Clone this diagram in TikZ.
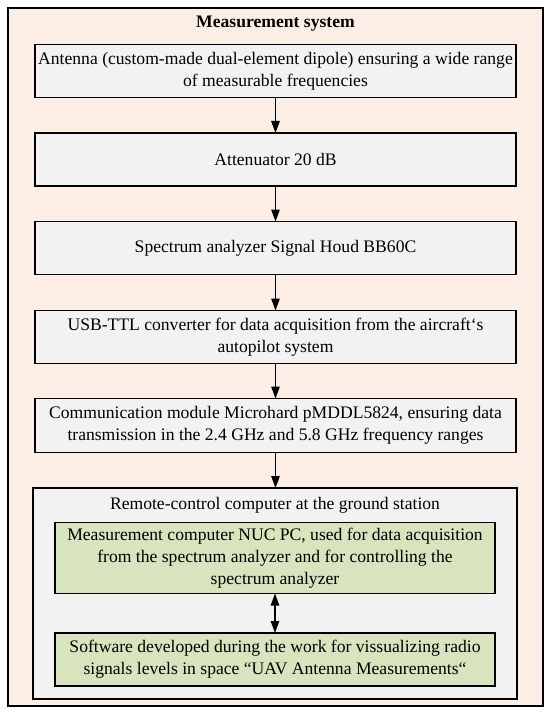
\documentclass[tikz,border=0pt]{standalone}
\usepackage{fontspec}
\setmainfont{Liberation Serif}
\usetikzlibrary{arrows.meta}
\definecolor{peach}{HTML}{FCEEE4}
\definecolor{boxgray}{HTML}{F2F2F2}
\definecolor{boxgreen}{HTML}{D7E4BD}
\begin{document}
\begin{tikzpicture}[x=1pt,y=-1pt,
  font=\fontsize{17.6}{22}\selectfont,
  stepbox/.style={draw=black,line width=1.2pt,fill=boxgray,align=center,
    minimum width=481pt,inner sep=0pt,outer sep=0pt},
  greenbox/.style={draw=black,line width=1.2pt,fill=boxgreen,align=center,
    minimum width=440pt,inner sep=0pt,outer sep=0pt},
  arr/.style={line width=1.1pt,-{Triangle[length=12pt,width=8.5pt]}},
  darr/.style={line width=1.1pt,{Triangle[length=12pt,width=8.5pt]}-{Triangle[length=12pt,width=8.5pt]}}]
\useasboundingbox (0,0) rectangle (550,714);
\node[draw=black,line width=1.4pt,fill=peach,minimum width=535pt,minimum height=698pt,inner sep=0pt] (outer) at (275.5,357) {};
\node[font=\fontsize{17.6}{22}\selectfont\bfseries] (title) at (275.5,24) {Measurement system};
\node[stepbox,minimum height=53pt] (b1) at (275.5,71) {Antenna (custom-made dual-element dipole) ensuring a wide range\\of measurable frequencies};
\node[stepbox,minimum height=53pt] (b2) at (275.5,159.5) {Attenuator 20 dB};
\node[stepbox,minimum height=53pt] (b3) at (275.5,248) {Spectrum analyzer Signal Houd BB60C};
\node[stepbox,minimum height=53pt] (b4) at (275.5,337) {USB-TTL converter for data acquisition from the aircraft‘s\\autopilot system};
\node[stepbox,minimum height=54pt] (b5) at (275.5,425.5) {Communication module Microhard pMDDL5824, ensuring data\\transmission in the 2.4 GHz and 5.8 GHz frequency ranges};
\node[stepbox,minimum width=484pt,minimum height=211pt] (remote) at (275,593.5) {};
\node (rlabel) at (275,505) {Remote-control computer at the ground station};
\node[greenbox,minimum height=71pt] (g1) at (275,558) {Measurement computer NUC PC, used for data acquisition\\from the spectrum analyzer and for controlling the\\spectrum analyzer};
\node[greenbox,minimum height=53pt] (g2) at (275,659.5) {Software developed during the work for vissualizing radio\\signals levels in space “UAV Antenna Measurements“};
\draw[arr] (b1.south) -- (b2.north);
\draw[arr] (b2.south) -- (b3.north);
\draw[arr] (b3.south) -- (b4.north);
\draw[arr] (b4.south) -- (b5.north);
\draw[arr] (b5.south) -- (b5.south |- remote.north);
\draw[darr] (g1.south) -- (g2.north);
\end{tikzpicture}
\end{document}
